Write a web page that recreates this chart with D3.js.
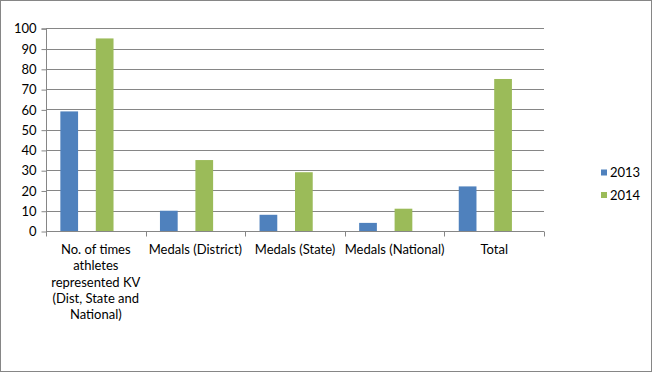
<!DOCTYPE html>
<html><head><meta charset="utf-8">
<script src="https://cdn.jsdelivr.net/npm/d3@7"></script>
<style>
html,body{margin:0;padding:0;background:#fff;}
svg{display:block;}
text{font-family:Lato,"Open Sans",sans-serif;fill:#000;}
</style></head>
<body>
<svg id="chart" width="652" height="372"></svg>
<script>
const categories = [
  ["No. of times","athletes","represented KV","(Dist, State and","National)"],
  ["Medals (District)"],
  ["Medals (State)"],
  ["Medals (National)"],
  ["Total"]
];
const seriesNames = ["2013","2014"];
const values2013 = [59, 10, 8, 4, 22];
const values2014 = [95, 35, 29, 11, 75];
const yTicks = [0,10,20,30,40,50,60,70,80,90,100];
const colors = ["#4F81BD","#9BBB59"];

const svg = d3.select("#chart");
svg.append("rect").attr("x",0.5).attr("y",0.5).attr("width",651).attr("height",371)
  .attr("fill","#fff").attr("stroke","#868686");

const plot = {left:46, right:544, top:28.3, bottom:231};
const x0 = d3.scaleBand().domain(d3.range(categories.length)).range([plot.left, plot.right]).padding(0);
const x1 = d3.scaleBand().domain([0,1,2,3]).range([0, x0.bandwidth()]).paddingInner(0).paddingOuter(0.81);
const slot = [0,2];
const y = d3.scaleLinear().domain([0,100]).range([plot.bottom, plot.top]);

// gridlines
svg.append("g").selectAll("line").data(yTicks.filter(d=>d>0)).join("line")
  .attr("x1",plot.left).attr("x2",plot.right)
  .attr("y1",d=>Math.round(y(d))+0.5).attr("y2",d=>Math.round(y(d))+0.5)
  .attr("stroke","#868686").attr("stroke-width",1);

// bars
const series = [values2013, values2014];
series.forEach((vals, si) => {
  svg.append("g").selectAll("rect").data(vals).join("rect")
    .attr("x",(d,i)=>x0(i)+x1(slot[si]))
    .attr("width",x1.bandwidth())
    .attr("y",d=>y(d))
    .attr("height",d=>y(0)-y(d))
    .attr("fill",colors[si]);
});

// y axis
const yAxis = d3.axisLeft(y).tickValues(yTicks).tickSize(5).tickPadding(5);
const gy = svg.append("g").attr("transform",`translate(${plot.left+0.5},0.5)`).call(yAxis);
gy.select(".domain").attr("stroke","#868686").attr("d",`M-5,${plot.top}H0V${plot.bottom}`);
gy.selectAll(".tick line").attr("stroke","#868686");
gy.selectAll(".tick text").style("font-size","13px").style("font-family","Lato");

// x axis
const gx = svg.append("g").attr("transform",`translate(0,${Math.round(plot.bottom)+0.5})`);
gx.append("line").attr("x1",plot.left).attr("x2",plot.right).attr("stroke","#868686");
const bounds = d3.range(categories.length+1).map(i => i<categories.length ? x0(i) : plot.right);
gx.selectAll("line.t").data(bounds).join("line").attr("class","t")
  .attr("x1",d=>Math.round(d)+0.5).attr("x2",d=>Math.round(d)+0.5).attr("y1",0).attr("y2",5)
  .attr("stroke","#868686");
const labels = gx.selectAll("text").data(categories).join("text")
  .attr("text-anchor","middle").style("font-size","13px")
  .attr("transform",(d,i)=>`translate(${x0(i)+x0.bandwidth()/2},0)`);
labels.selectAll("tspan").data(d=>d).join("tspan")
  .attr("x",0).attr("y",(d,j)=>22.5+j*16.3).text(d=>d);

// legend
const lg = svg.append("g").attr("transform","translate(601,0)");
seriesNames.forEach((n,i)=>{
  lg.append("rect").attr("x",0).attr("y",169.5+i*22.5).attr("width",6).attr("height",6).attr("fill",colors[i]);
  lg.append("text").attr("x",9).attr("y",177+i*22.5).style("font-size","13px").text(n);
});
</script>
</body></html>
